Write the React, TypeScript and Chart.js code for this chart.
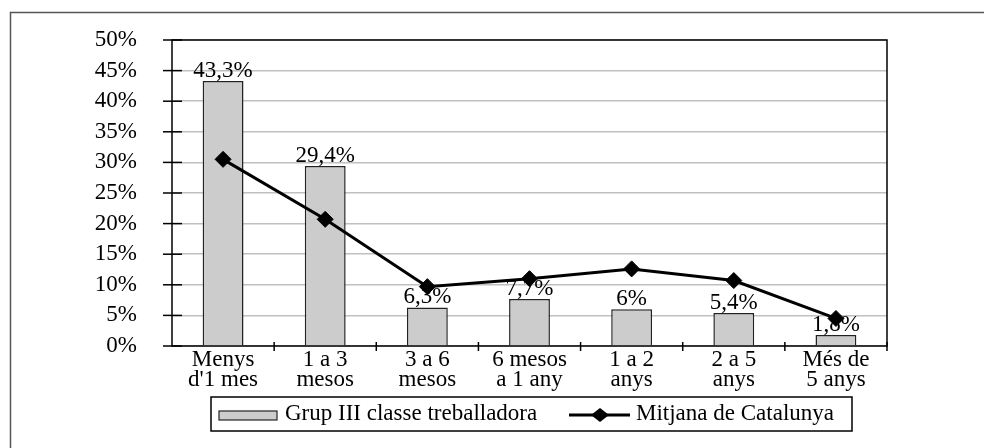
import React, { useEffect, useRef } from "react";
import { Chart, registerables } from "chart.js";

Chart.register(...registerables);

const categories: string[][] = [
  ["Menys", "d'1 mes"],
  ["1 a 3", "mesos"],
  ["3 a 6", "mesos"],
  ["6 mesos", "a 1 any"],
  ["1 a 2", "anys"],
  ["2 a 5", "anys"],
  ["Més de", "5 anys"],
];
const grupValues: number[] = [43.3, 29.4, 6.3, 7.7, 6, 5.4, 1.8];
const mitjanaValues: number[] = [30.5, 20.7, 9.7, 11.0, 12.6, 10.7, 4.5];
const seriesNames: string[] = ["Grup III classe treballadora", "Mitjana de Catalunya"];

const FONT = "Liberation Serif";
const FS = 23;

const fmt = (v: number) => String(v).replace(".", ",") + "%";

const decorPlugin = {
  id: "decor",
  beforeDraw(chart: any) {
    const ctx = chart.ctx;
    ctx.save();
    ctx.strokeStyle = "#555";
    ctx.lineWidth = 1.5;
    ctx.strokeRect(10.5, 12.5, 1100, 600);
    ctx.restore();
  },
  beforeDatasetsDraw(chart: any) {
    const { ctx, chartArea: a, scales } = chart;
    ctx.save();
    ctx.strokeStyle = "#000";
    ctx.lineWidth = 1.5;
    ctx.strokeRect(a.left, a.top, a.right - a.left, a.bottom - a.top);
    const y = scales.y;
    y.ticks.forEach((t: any) => {
      const py = y.getPixelForValue(t.value);
      ctx.beginPath();
      ctx.moveTo(a.left - 9, py);
      ctx.lineTo(a.left + 10, py);
      ctx.stroke();
    });
    const n = categories.length;
    const step = (a.right - a.left) / n;
    for (let i = 1; i <= n; i++) {
      const px = a.left + step * i;
      ctx.beginPath();
      ctx.moveTo(px, a.bottom - 4);
      ctx.lineTo(px, a.bottom + 5);
      ctx.stroke();
    }
    ctx.restore();
  },
  afterDatasetDraw(chart: any, args: any) {
    if (args.index !== 0) return;
    const ctx = chart.ctx;
    const meta = chart.getDatasetMeta(0);
    ctx.save();
    ctx.fillStyle = "#000";
    ctx.font = `${FS}px "${FONT}"`;
    ctx.textAlign = "center";
    ctx.textBaseline = "alphabetic";
    meta.data.forEach((bar: any, i: number) => {
      ctx.fillText(fmt(grupValues[i]), bar.x, bar.y - 4);
    });
    ctx.restore();
  },
  afterDraw(chart: any) {
    const ctx = chart.ctx;
    ctx.save();
    ctx.strokeStyle = "#000";
    ctx.lineWidth = 1.5;
    ctx.strokeRect(211, 397, 641, 34);
    ctx.fillStyle = "#cccccc";
    ctx.fillRect(219, 411, 58, 9);
    ctx.strokeStyle = "#222";
    ctx.lineWidth = 1.2;
    ctx.strokeRect(219, 411, 58, 9);
    ctx.fillStyle = "#000";
    ctx.font = `${FS}px "${FONT}"`;
    ctx.textAlign = "left";
    ctx.textBaseline = "middle";
    ctx.fillText(seriesNames[0], 285, 414);
    ctx.strokeStyle = "#000";
    ctx.lineWidth = 3;
    ctx.beginPath();
    ctx.moveTo(569, 415);
    ctx.lineTo(630, 415);
    ctx.stroke();
    ctx.beginPath();
    ctx.moveTo(591, 415);
    ctx.lineTo(600, 408);
    ctx.lineTo(609, 415);
    ctx.lineTo(600, 422);
    ctx.closePath();
    ctx.fill();
    ctx.fillText(seriesNames[1], 636, 414);
    ctx.restore();
  },
};

export default function App() {
  const ref = useRef<HTMLCanvasElement>(null);
  useEffect(() => {
    document.body.style.margin = "0";
    const chart = new Chart(ref.current!, {
      type: "bar",
      data: {
        labels: categories,
        datasets: [
          {
            type: "bar",
            label: seriesNames[0],
            data: grupValues,
            backgroundColor: "#cccccc",
            borderColor: "#222",
            borderWidth: 1.5,
            barPercentage: 0.4,
            categoryPercentage: 1,
            order: 1,
          },
          {
            type: "line",
            label: seriesNames[1],
            data: mitjanaValues,
            borderColor: "#000",
            borderWidth: 3,
            pointStyle: "rectRot",
            pointRadius: 8,
            pointBackgroundColor: "#000",
            pointBorderColor: "#000",
            pointBorderWidth: 1,
            tension: 0,
            order: 0,
          },
        ],
      },
      plugins: [decorPlugin],
      options: {
        responsive: false,
        animation: false,
        layout: { padding: { left: 0, top: 40, right: 97, bottom: 0 } },
        plugins: { legend: { display: false }, tooltip: { enabled: false } },
        scales: {
          x: {
            grid: { display: false, drawTicks: false },
            border: { display: false },
            ticks: {
              color: "#000",
              padding: 4,
              maxRotation: 0,
              autoSkip: false,
              font: { family: FONT, size: FS, lineHeight: 0.87 },
            },
            afterFit: (s: any) => {
              s.height = 102;
              s.paddingLeft = 0;
              s.paddingRight = 0;
            },
          },
          y: {
            min: 0,
            max: 50,
            grid: { color: "#c0c0c0", lineWidth: 1.5, drawTicks: false },
            border: { display: false },
            ticks: {
              stepSize: 5,
              autoSkip: false,
              color: "#000",
              padding: 35,
              font: { family: FONT, size: FS },
              callback: (v: any) => v + "%",
            },
            afterFit: (s: any) => {
              s.width = 172;
              s.paddingTop = 0;
              s.paddingBottom = 0;
            },
          },
        },
      },
    });
    return () => chart.destroy();
  }, []);
  return (
    <div style={{ width: 984, height: 448 }}>
      <canvas ref={ref} width={984} height={448} />
    </div>
  );
}
